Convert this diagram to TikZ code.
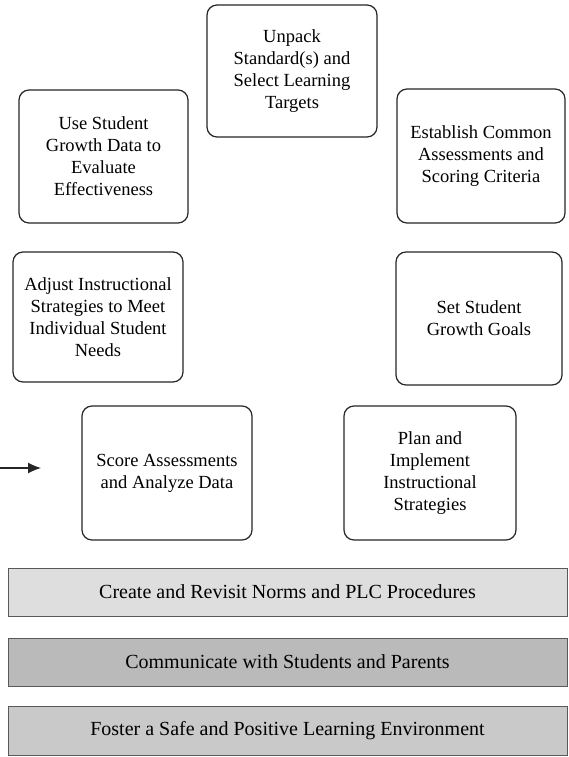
\documentclass[tikz,border=0pt]{standalone}
\usepackage{fontspec}
\setmainfont{Liberation Serif}
\usetikzlibrary{arrows.meta}
\tikzset{
  stage/.style = {draw=black!85, rounded corners=10pt, line width=1.2pt, align=center,
                  inner sep=2pt, fill=white,
                  font=\fontsize{18.5}{22}\selectfont},
  base/.style  = {draw=black!65, line width=0.9pt, align=center, minimum width=559pt,
                  minimum height=48pt, font=\fontsize{20}{22}\selectfont},
  fl/.style    = {-{Latex[length=13pt, width=11pt]}, line width=1.1pt, draw=black!85},
}
\begin{document}
\begin{tikzpicture}[x=1pt, y=-1pt]
\useasboundingbox (0,0) rectangle (569,757);
\node[stage, minimum width=170pt, minimum height=132pt] (unpack) at (292,71)
  {Unpack\\Standard(s) and\\Select Learning\\Targets};
\node[stage, minimum width=169pt, minimum height=133pt] (evalg) at (103.5,156.5)
  {Use Student\\Growth Data to\\Evaluate\\Effectiveness};
\node[stage, minimum width=168pt, minimum height=134pt] (common) at (481,156)
  {Establish Common\\Assessments and\\Scoring Criteria};
\node[stage, minimum width=170pt, minimum height=130pt] (adjust) at (98,317)
  {Adjust Instructional\\Strategies to Meet\\Individual Student\\Needs};
\node[stage, minimum width=166pt, minimum height=133pt] (goals) at (479,318.5)
  {Set Student\\Growth Goals};
\node[stage, minimum width=170pt, minimum height=134pt] (score) at (167,473)
  {Score Assessments\\and Analyze Data};
\node[stage, minimum width=172pt, minimum height=134pt] (plan) at (430,473)
  {Plan and\\Implement\\Instructional\\Strategies};
\node[base, fill=black!13] (norms) at (287.5,592) {Create and Revisit Norms and PLC Procedures};
\node[base, fill=black!27] (comm)  at (287.5,662) {Communicate with Students and Parents};
\node[base, fill=black!21, minimum height=49pt] (safe) at (287.5,730.5) {Foster a Safe and Positive Learning Environment};
\coordinate (arrin) at (0,468);
\coordinate (arrtip) at (41,468);
\draw[fl] (arrin) -- (arrtip);
\end{tikzpicture}
\end{document}
